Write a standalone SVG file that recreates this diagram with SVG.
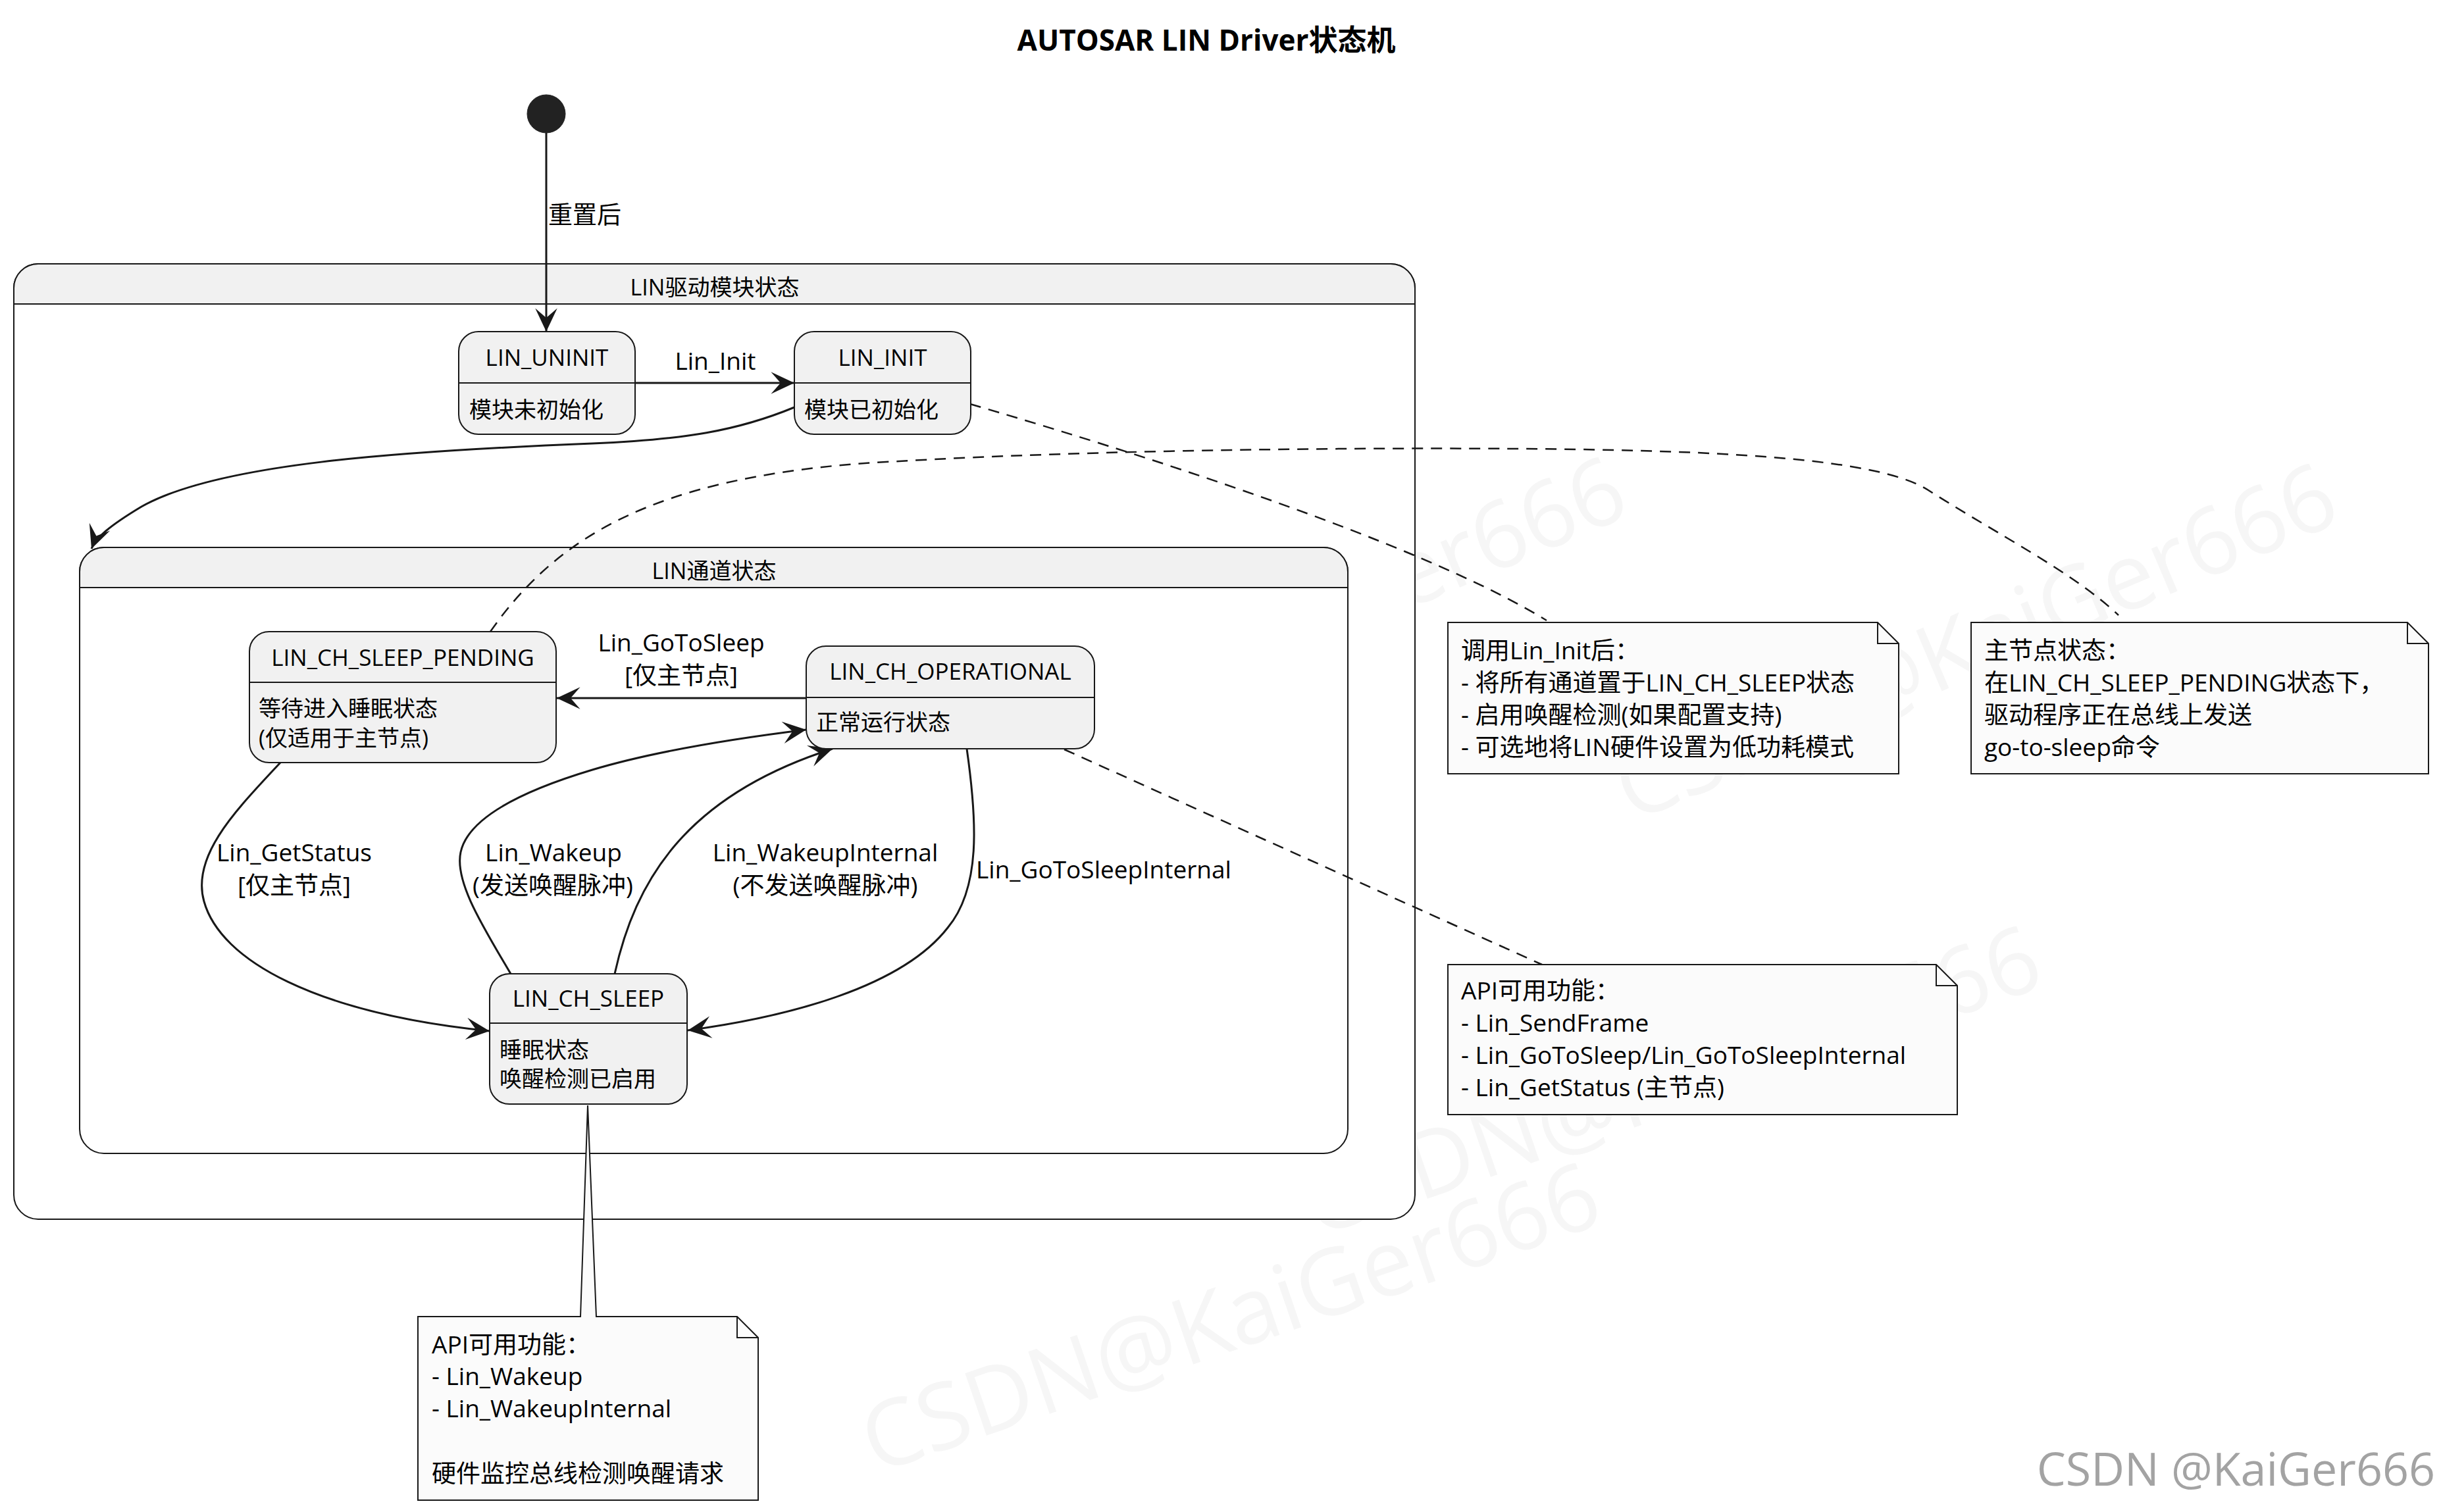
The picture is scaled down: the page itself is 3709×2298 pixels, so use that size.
<svg xmlns="http://www.w3.org/2000/svg" width="3709" height="2298" viewBox="0 0 3709 2298">
<style>
text { font-family: "Open Sans", "Noto Sans CJK SC", sans-serif; fill: #000; }
.title { font-size: 44px; font-weight: bold; }
.sn { font-size: 35px; }
.sb { font-size: 34px; }
.lb { font-size: 37px; }
.nt { font-size: 37px; }
.cn { font-size: 34px; }
.state { fill: #F1F1F1; stroke: #181818; stroke-width: 2; }
.comp { fill: #FFFFFF; stroke: #181818; stroke-width: 2; }
.hdr { fill: #F1F1F1; stroke: #181818; stroke-width: 2; }
.div { stroke: #181818; stroke-width: 2; fill: none; }
.edge { fill: none; stroke: #181818; stroke-width: 3; marker-end: url(#ah); }
.dash { fill: none; stroke: #181818; stroke-width: 2.5; stroke-dasharray: 17 12; }
.note { fill: #FBFBFB; stroke: #181818; stroke-width: 2; }
.wm { font-size: 140px; fill: #f6f6f6; }
</style>
<defs>
<marker id="ah" markerUnits="userSpaceOnUse" markerWidth="44" markerHeight="44" viewBox="-38 -20 42 40" refX="0" refY="0" orient="auto">
<path d="M0,0 L-34,-16 L-20,0 L-34,16 Z" fill="#181818"/>
</marker>
</defs>
<rect x="0" y="0" width="3709" height="2298" fill="#FFFFFF"/>

<g id="watermarks-faint">
<text class="wm" transform="translate(1400,1240) rotate(-23)">CSDN@KaiGer666</text>
<text class="wm" transform="translate(2480,1250) rotate(-23)">CSDN@KaiGer666</text>
<text class="wm" transform="translate(2000,1880) rotate(-19)">CSDN@KaiGer666</text>
<text class="wm" transform="translate(1330,2240) rotate(-19)">CSDN@KaiGer666</text>
</g>

<text class="title" x="1833" y="77" text-anchor="middle">AUTOSAR LIN Driver状态机</text>

<g id="initial">
<circle cx="830" cy="173" r="29" fill="#222222" stroke="#222222" stroke-width="1"/>
</g>

<g id="lin-module">
<rect class="comp" x="21" y="401" width="2129" height="1452" rx="37" ry="37"/>
<path class="hdr" d="M21,462 L21,438 A37,37 0 0 1 58,401 L2113,401 A37,37 0 0 1 2150,438 L2150,462 Z"/>
<text class="cn" x="1086" y="449" text-anchor="middle">LIN驱动模块状态</text>
</g>

<g id="lin-channel">
<rect class="comp" x="121" y="832" width="1927" height="921" rx="37" ry="37"/>
<path class="hdr" d="M121,893 L121,869 A37,37 0 0 1 158,832 L2011,832 A37,37 0 0 1 2048,869 L2048,893 Z"/>
<text class="cn" x="1085" y="880" text-anchor="middle">LIN通道状态</text>
</g>

<g id="connectors">
<path class="edge" d="M830,202 L830,504"/>
<text class="lb" x="833" y="340">重置后</text>

<path class="edge" d="M965,582 L1207,582"/>
<text class="lb" x="1087" y="562" text-anchor="middle">Lin_Init</text>

<path class="edge" d="M1207,619 C1120,655 1040,668 900,674 C600,686 330,705 215,770 C165,800 145,818 139,834"/>

<path class="edge" d="M1225,1061 L846,1061"/>
<text class="lb" x="1035" y="990" text-anchor="middle">Lin_GoToSleep</text>
<text class="lb" x="1035" y="1040" text-anchor="middle">[仅主节点]</text>

<path class="edge" d="M426,1159 C360,1230 290,1300 310,1370 C335,1460 480,1540 744,1567"/>
<text class="lb" x="447" y="1309" text-anchor="middle">Lin_GetStatus</text>
<text class="lb" x="447" y="1359" text-anchor="middle">[仅主节点]</text>

<path class="edge" d="M776,1480 C735,1410 690,1340 700,1295 C712,1240 800,1200 900,1170 C1000,1140 1120,1122 1225,1109"/>
<text class="lb" x="841" y="1309" text-anchor="middle">Lin_Wakeup</text>
<text class="lb" x="840" y="1359" text-anchor="middle">(发送唤醒脉冲)</text>

<path class="edge" d="M934,1480 C965,1340 1040,1210 1265,1138"/>
<text class="lb" x="1254" y="1309" text-anchor="middle">Lin_WakeupInternal</text>
<text class="lb" x="1254" y="1359" text-anchor="middle">(不发送唤醒脉冲)</text>

<path class="edge" d="M1469,1138 C1485,1250 1490,1350 1440,1410 C1370,1500 1200,1545 1045,1566"/>
<text class="lb" x="1483" y="1335">Lin_GoToSleepInternal</text>

<path class="dash" d="M1474,614 C1700,680 2150,820 2350,943"/>
<path class="dash" d="M745,960 C850,810 1000,730 1300,705 C1600,685 2000,680 2300,682 C2650,684 2860,700 2930,745 C3040,815 3150,870 3219,935"/>
<path class="dash" d="M1617,1139 L2343,1466"/>
</g>

<g id="LIN_UNINIT">
<rect class="state" x="697" y="504" width="268" height="156" rx="30" ry="30"/>
<line class="div" x1="697" y1="582" x2="965" y2="582"/>
<text class="sn" x="831" y="556" text-anchor="middle">LIN_UNINIT</text>
<text class="sb" x="713" y="635">模块未初始化</text>
</g>

<g id="LIN_INIT">
<rect class="state" x="1207" y="504" width="268" height="156" rx="30" ry="30"/>
<line class="div" x1="1207" y1="582" x2="1475" y2="582"/>
<text class="sn" x="1341" y="556" text-anchor="middle">LIN_INIT</text>
<text class="sb" x="1222" y="635">模块已初始化</text>
</g>

<g id="LIN_CH_SLEEP_PENDING">
<rect class="state" x="379" y="960" width="466" height="199" rx="30" ry="30"/>
<line class="div" x1="379" y1="1037" x2="845" y2="1037"/>
<text class="sn" x="612" y="1012" text-anchor="middle">LIN_CH_SLEEP_PENDING</text>
<text class="sb" x="393" y="1089">等待进入睡眠状态</text>
<text class="sb" x="393" y="1134">(仅适用于主节点)</text>
</g>

<g id="LIN_CH_OPERATIONAL">
<rect class="state" x="1225" y="982" width="438" height="156" rx="30" ry="30"/>
<line class="div" x1="1225" y1="1060" x2="1663" y2="1060"/>
<text class="sn" x="1444" y="1033" text-anchor="middle">LIN_CH_OPERATIONAL</text>
<text class="sb" x="1240" y="1110">正常运行状态</text>
</g>

<g id="LIN_CH_SLEEP">
<rect class="state" x="744" y="1480" width="300" height="198" rx="30" ry="30"/>
<line class="div" x1="744" y1="1555" x2="1044" y2="1555"/>
<text class="sn" x="894" y="1530" text-anchor="middle">LIN_CH_SLEEP</text>
<text class="sb" x="759" y="1608">睡眠状态</text>
<text class="sb" x="759" y="1652">唤醒检测已启用</text>
</g>

<g id="note-init">
<path class="note" d="M2200,946 L2853,946 L2885,978 L2885,1176 L2200,1176 Z"/>
<path class="div" d="M2853,946 L2853,978 L2885,978"/>
<text class="nt" x="2220" y="1002">调用Lin_Init后：</text>
<text class="nt" x="2220" y="1051">- 将所有通道置于LIN_CH_SLEEP状态</text>
<text class="nt" x="2220" y="1100">- 启用唤醒检测(如果配置支持)</text>
<text class="nt" x="2220" y="1149">- 可选地将LIN硬件设置为低功耗模式</text>
</g>

<g id="note-master">
<path class="note" d="M2995,946 L3658,946 L3690,978 L3690,1176 L2995,1176 Z"/>
<path class="div" d="M3658,946 L3658,978 L3690,978"/>
<text class="nt" x="3015" y="1002">主节点状态：</text>
<text class="nt" x="3015" y="1051">在LIN_CH_SLEEP_PENDING状态下，</text>
<text class="nt" x="3015" y="1100">驱动程序正在总线上发送</text>
<text class="nt" x="3015" y="1149">go-to-sleep命令</text>
</g>

<g id="note-operational">
<path class="note" d="M2200,1466 L2942,1466 L2974,1498 L2974,1694 L2200,1694 Z"/>
<path class="div" d="M2942,1466 L2942,1498 L2974,1498"/>
<text class="nt" x="2220" y="1519">API可用功能：</text>
<text class="nt" x="2220" y="1568">- Lin_SendFrame</text>
<text class="nt" x="2220" y="1617">- Lin_GoToSleep/Lin_GoToSleepInternal</text>
<text class="nt" x="2220" y="1666">- Lin_GetStatus (主节点)</text>
</g>

<g id="note-sleep">
<path class="note" d="M635,2001 L882,2001 L893,1680 L906,2001 L1120,2001 L1152,2033 L1152,2280 L635,2280 Z"/>
<path class="div" d="M1120,2001 L1120,2033 L1152,2033"/>
<text class="nt" x="656" y="2057">API可用功能：</text>
<text class="nt" x="656" y="2105">- Lin_Wakeup</text>
<text class="nt" x="656" y="2154">- Lin_WakeupInternal</text>
<text class="nt" x="656" y="2253">硬件监控总线检测唤醒请求</text>
</g>

<text x="3700" y="2258" text-anchor="end" style="font-size:70px; fill:#a3a3a3;">CSDN @KaiGer666</text>
</svg>
